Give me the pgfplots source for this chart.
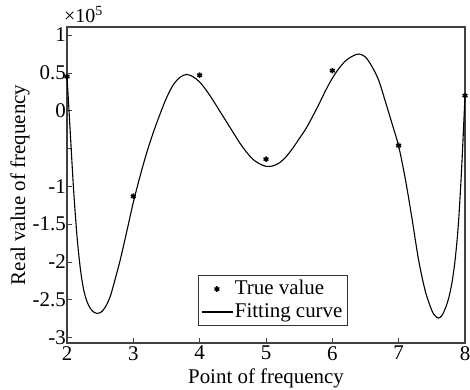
\documentclass[border=0pt]{standalone}
\usepackage{fontspec}
\setmainfont{Liberation Serif}
\usepackage{pgfplots}
\pgfplotsset{compat=1.18}
\pgfplotsset{
  marklegend/.style={legend image code/.code={\draw[##1] plot coordinates {(17bp,0bp)};}},
  linelegend/.style={legend image code/.code={\draw[##1] (2bp,0bp) -- (33bp,0bp);}},
}
\begin{document}
\fontsize{21}{24}\selectfont
\begin{tikzpicture}
\useasboundingbox (-67bp,-47bp) rectangle (403bp,343bp);
\begin{axis}[
  at={(0,0)}, anchor=south west,
  scale only axis, width=398bp, height=316bp,
  xmin=2, xmax=8, ymin=-3.07, ymax=1.107,
  xtick={2,3,4,5,6,7,8},
  ytick={-3,-2.5,-2,-1.5,-1,-0.5,0,0.5,1},
  yticklabels={-3,-2.5,-2,-1.5,-1,{},0,0.5,1},
  tick align=inside, xtick pos=left, ytick pos=left,
  major tick length=5bp,
  axis line style={draw=black!75, line width=1.1bp},
  tick style={draw=black!75, line width=0.8bp},
  /pgf/number format/assume math mode=true,
  font=\fontsize{21}{24}\selectfont,
  xlabel={Point of frequency},
  ylabel={Real value of frequency},
  every axis x label/.style={at={(axis description cs:0.5,-0.111)}, anchor=center},
  every axis y label/.style={at={(axis description cs:-0.118,0.5)}, rotate=90, anchor=center},
  yticklabel style={inner xsep=1bp},
  xticklabel style={inner ysep=3bp},
  legend style={at={(axis description cs:0.329,0.054)}, anchor=south west,
    draw=black!80, line width=0.8bp, inner xsep=3bp, inner ysep=2bp,
    font=\fontsize{21}{24}\selectfont, row sep=0bp,
    nodes={inner sep=1.5bp, text height=15bp, text depth=5bp},
    /tikz/every even column/.append style={column sep=0bp}},
  legend cell align=left,
  clip=false,
]
\addplot[only marks, mark=asterisk, mark size=2.8bp, line width=1.5bp, black, marklegend]
  coordinates {(2,0.45)(3,-1.13)(4,0.47)(5,-0.64)(6,0.53)(7,-0.46)(8,0.20)};
\addlegendentry{True value}
\addplot[black, line width=1.1bp, smooth, no marks, linelegend]
  coordinates {
  (2.00,0.46)(2.05,-0.30)(2.10,-1.05)(2.15,-1.65)(2.20,-2.08)(2.25,-2.36)
  (2.30,-2.52)(2.35,-2.61)(2.40,-2.66)(2.45,-2.68)(2.50,-2.67)(2.55,-2.63)
  (2.60,-2.56)(2.65,-2.46)(2.70,-2.31)(2.80,-1.98)(2.90,-1.60)(3.00,-1.21)
  (3.10,-0.87)(3.20,-0.56)(3.30,-0.29)(3.40,-0.05)(3.50,0.17)(3.60,0.34)
  (3.70,0.44)(3.80,0.48)(3.90,0.45)(4.00,0.38)(4.10,0.27)(4.20,0.14)
  (4.30,0.00)(4.40,-0.14)(4.50,-0.28)(4.60,-0.42)(4.70,-0.54)(4.80,-0.64)
  (4.90,-0.70)(5.00,-0.735)(5.10,-0.73)(5.20,-0.69)(5.30,-0.61)(5.40,-0.50)
  (5.50,-0.37)(5.60,-0.24)(5.70,-0.08)(5.80,0.09)(5.90,0.27)(6.00,0.43)
  (6.10,0.56)(6.20,0.66)(6.30,0.72)(6.40,0.75)(6.50,0.71)(6.60,0.58)
  (6.70,0.40)(6.80,0.12)(6.90,-0.17)(7.00,-0.47)(7.10,-0.90)(7.20,-1.42)
  (7.30,-1.97)(7.40,-2.38)(7.50,-2.64)(7.55,-2.71)(7.60,-2.74)(7.65,-2.71)
  (7.70,-2.62)(7.75,-2.49)(7.80,-2.29)(7.85,-1.98)(7.90,-1.50)(7.95,-0.75)
  (8.00,0.20)};
\addlegendentry{Fitting curve}
\end{axis}
\node[anchor=south west, inner sep=0pt, font=\fontsize{20}{22}\selectfont] at (-3bp,320bp) {×10\textsuperscript{5}};
\end{tikzpicture}
\end{document}
